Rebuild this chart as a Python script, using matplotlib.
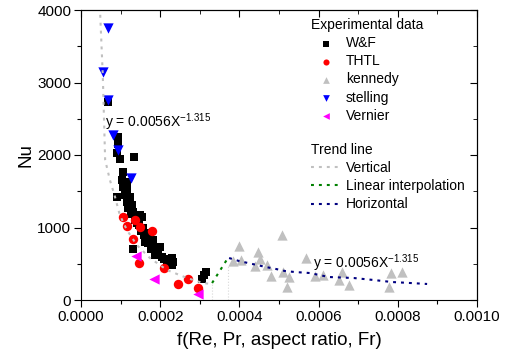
import matplotlib
matplotlib.use("Agg")
import matplotlib.pyplot as plt
from matplotlib.ticker import MultipleLocator, FormatStrFormatter

plt.rcParams['font.family'] = ['Liberation Sans', 'DejaVu Sans']
plt.rcParams['mathtext.fontset'] = 'custom'
plt.rcParams['mathtext.rm'] = 'Liberation Sans'

wf_x = [6.8e-5, 9.3e-5, 9.3e-5, 9.1e-5, 9.8e-5, 1.34e-4, 1.06e-4, 1.04e-4, 1.16e-4, 1.06e-4,
        1.16e-4, 9.1e-5, 1.11e-4, 1.24e-4, 1.16e-4, 1.29e-4, 1.19e-4, 1.31e-4, 1.49e-4, 1.54e-4,
        1.41e-4, 1.57e-4, 1.74e-4, 1.67e-4, 1.82e-4, 1.62e-4, 1.82e-4, 1.94e-4, 2.05e-4, 2.20e-4,
        2.30e-4, 2.17e-4, 1.99e-4, 1.87e-4, 2.32e-4, 2.30e-4, 1.31e-4, 3.06e-4, 3.11e-4, 3.16e-4,
        1.21e-4, 1.26e-4, 1.36e-4, 1.47e-4, 1.52e-4, 1.60e-4, 1.70e-4, 1.78e-4, 1.90e-4, 2.10e-4]
wf_y = [2731, 2248, 2151, 2027, 1944, 1972, 1765, 1655, 1627, 1558,
        1517, 1420, 1448, 1420, 1351, 1310, 1269, 1214, 1172, 1145,
        1062, 993, 924, 855, 827, 800, 731, 690, 593, 552,
        483, 510, 731, 621, 524, 579, 703, 290, 345, 386,
        1330, 1190, 1110, 1030, 950, 900, 780, 700, 640, 560]

thtl_x = [1.06e-4, 1.16e-4, 1.36e-4, 1.49e-4, 1.79e-4, 1.31e-4, 1.46e-4, 2.10e-4, 2.45e-4, 2.70e-4, 2.95e-4]
thtl_y = [1145, 1021, 1103, 1007, 952, 841, 510, 441, 221, 290, 166]

kennedy_x = [3.99e-4, 3.84e-4, 4.04e-4, 4.47e-4, 4.52e-4, 4.39e-4, 4.70e-4, 4.80e-4, 5.08e-4, 5.10e-4,
             5.25e-4, 5.20e-4, 5.68e-4, 5.91e-4, 6.11e-4, 6.59e-4, 6.51e-4, 6.77e-4, 7.83e-4, 8.11e-4, 7.78e-4]
kennedy_y = [745, 538, 552, 662, 565, 469, 483, 331, 896, 386,
             317, 179, 579, 331, 345, 386, 276, 207, 372, 386, 179]

stelling_x = [6.8e-5, 5.6e-5, 6.8e-5, 8.1e-5, 9.3e-5, 1.26e-4]
stelling_y = [3752, 3145, 2760, 2276, 2069, 1683]

vernier_x = [1.39e-4, 1.85e-4, 2.95e-4]
vernier_y = [607, 290, 83]

# trend lines
vert_x = [4.7e-5, 4.8e-5, 5.5e-5, 6.1e-5, 7.3e-5, 8.6e-5, 9.8e-5, 1.16e-4, 1.41e-4, 1.74e-4,
          2.17e-4, 2.68e-4, 3.08e-4, 3.31e-4]
vert_y = [4300, 4000, 3100, 1931, 1655, 1420, 1172, 965, 758, 579,
          414, 303, 234, 220]
lin_x = [3.31e-4, 3.71e-4]
lin_y = [234, 579]
hor_x = [3.74e-4, 3.99e-4, 4.22e-4, 4.44e-4, 4.67e-4, 4.93e-4, 5.15e-4, 5.40e-4, 5.78e-4, 6.26e-4,
         6.89e-4, 7.39e-4, 7.85e-4, 8.33e-4, 8.74e-4]
hor_y = [579, 538, 510, 483, 455, 427, 400, 386, 372, 317,
         303, 276, 248, 234, 221]

fig = plt.figure(figsize=(5.08, 3.58), dpi=100)
ax = fig.add_axes([81/508, 58/358, 396/508, 290/358])

dots = (0, (1.4, 2.4))
ax.plot([3.31e-4, 3.31e-4], [0, 220], color='#d8d8d8', lw=0.8, ls=':', zorder=1)
ax.plot([3.71e-4, 3.71e-4], [0, 480], color='#d8d8d8', lw=0.8, ls=':', zorder=1)

h1 = ax.scatter(wf_x, wf_y, marker='s', s=36, color='black', lw=0, label='W&F', zorder=3)
h2 = ax.scatter(thtl_x, thtl_y, marker='o', s=46, color='red', lw=0, label='THTL', zorder=3)
h3 = ax.scatter(kennedy_x, kennedy_y, marker='^', s=55, color='#c0c0c0', lw=0, label='kennedy', zorder=3)
h4 = ax.scatter(stelling_x, stelling_y, marker='v', s=55, color='blue', lw=0, label='stelling', zorder=3)
h5 = ax.scatter(vernier_x, vernier_y, marker='<', s=55, color='magenta', lw=0, label='Vernier', zorder=3)

l1, = ax.plot(vert_x, vert_y, color='#c0c0c0', lw=1.5, ls=dots, label='Vertical', zorder=4)
l2, = ax.plot(lin_x, lin_y, color='#008000', lw=1.5, ls=dots, label='Linear interpolation', zorder=4)
l3, = ax.plot(hor_x, hor_y, color='#000080', lw=1.5, ls=dots, label='Horizontal', zorder=4)

ax.text(6.0e-5, 2386, r'y = 0.0056X$^{-1.315}$', fontsize=10, va='baseline', ha='left', zorder=5)
ax.text(5.86e-4, 441, r'y = 0.0056X$^{-1.315}$', fontsize=10, va='baseline', ha='left', zorder=5)

ax.set_xlim(0, 0.001)
ax.set_ylim(0, 4000)
ax.xaxis.set_major_locator(MultipleLocator(0.0002))
ax.xaxis.set_minor_locator(MultipleLocator(0.0001))
ax.xaxis.set_major_formatter(FormatStrFormatter('%.4f'))
ax.yaxis.set_major_locator(MultipleLocator(1000))
ax.yaxis.set_minor_locator(MultipleLocator(500))
ax.tick_params(which='major', direction='out', length=5, width=0.8, labelsize=11, pad=2)
ax.tick_params(which='minor', direction='out', length=3, width=0.8)

top = ax.secondary_xaxis('top')
top.xaxis.set_major_locator(MultipleLocator(0.0002))
top.xaxis.set_minor_locator(MultipleLocator(0.0001))
top.tick_params(which='major', direction='in', length=5, labeltop=False)
top.tick_params(which='minor', direction='in', length=3)
right = ax.secondary_yaxis('right')
right.yaxis.set_major_locator(MultipleLocator(1000))
right.yaxis.set_minor_locator(MultipleLocator(500))
right.tick_params(which='major', direction='in', length=5, labelright=False)
right.tick_params(which='minor', direction='in', length=3)

ax.set_xlabel('f(Re, Pr, aspect ratio, Fr)', fontsize=13.5, labelpad=6)
ax.set_ylabel('Nu', fontsize=13.5, labelpad=2)

leg1 = ax.legend(handles=[h1, h2, h3, h4, h5], title='Experimental data', loc='upper left',
                 bbox_to_anchor=(311/508, 1 - 18/358), bbox_transform=fig.transFigure,
                 frameon=False, fontsize=10, title_fontsize=10, alignment='left',
                 handlelength=2.2, handletextpad=0.3, labelspacing=0.3, borderpad=0,
                 borderaxespad=0, markerscale=0.65)
ax.add_artist(leg1)
ax.legend(handles=[l1, l2, l3], title='Trend line', loc='upper left',
          bbox_to_anchor=(311/508, 1 - 143/358), bbox_transform=fig.transFigure,
          frameon=False, fontsize=10, title_fontsize=10, alignment='left',
          handlelength=2.2, handletextpad=0.3, labelspacing=0.3, borderpad=0,
          borderaxespad=0)

fig.savefig('out.png', dpi=100)
